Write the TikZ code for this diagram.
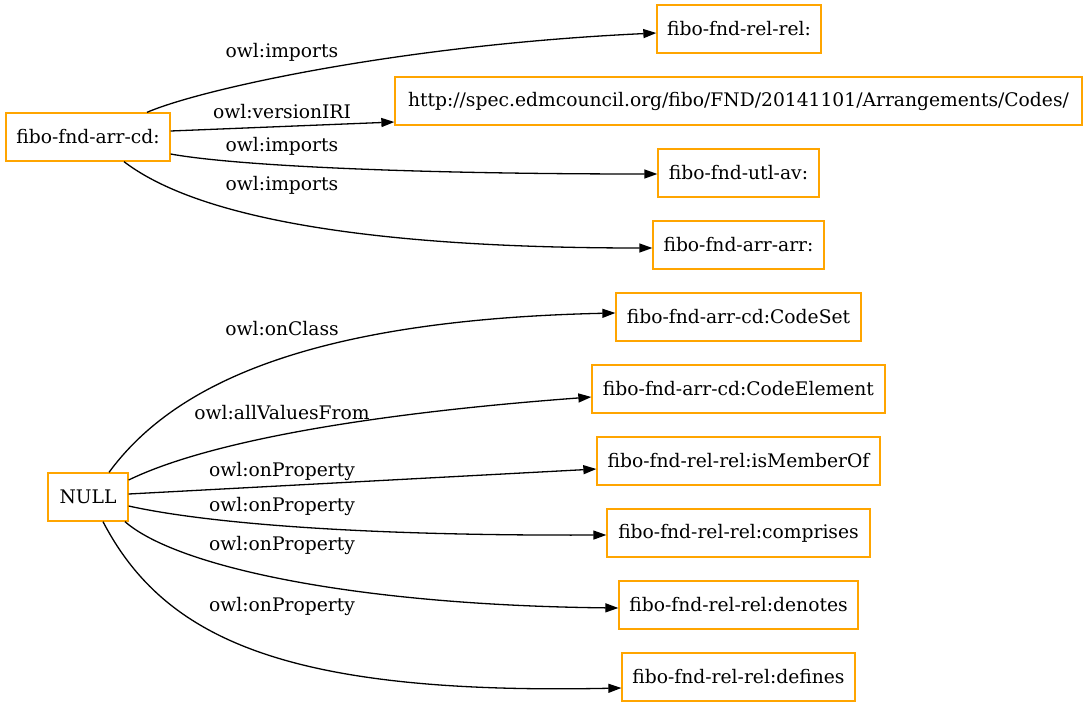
\documentclass[tikz,border=0pt]{standalone}
\usepackage{fontspec}
\setmainfont{DejaVu Serif}
\usetikzlibrary{arrows.meta,calc}
\definecolor{boxorange}{HTML}{FFA500}
\begin{document}
\begin{tikzpicture}[x=1pt,y=-1pt,
  box/.style={draw=boxorange,line width=1.3pt,minimum height=48pt,inner xsep=0pt,inner ysep=0pt,font=\fontsize{18.7pt}{22pt}\selectfont},
  lbl/.style={inner sep=0pt,font=\fontsize{18.7pt}{22pt}\selectfont},
  edge/.style={draw,line width=1.3pt,-{Triangle[length=13pt,width=9pt]}}]
\useasboundingbox (0,0) rectangle (1088,707);
% nodes
\node[box,minimum width=164pt] (arrcd) at (88,137) {fibo-fnd-arr-cd:};
\node[box,minimum width=164pt] (relrel) at (739,29) {fibo-fnd-rel-rel:};
\node[box,minimum width=687pt] (http) at (738.5,101) {http://spec.edmcouncil.org/fibo/FND/20141101/Arrangements/Codes/};
\node[box,minimum width=161pt] (utlav) at (738.5,173) {fibo-fnd-utl-av:};
\node[box,minimum width=171pt] (arrarr) at (738.5,245) {fibo-fnd-arr-arr:};
\node[box,minimum width=245pt] (codeset) at (738.5,317) {fibo-fnd-arr-cd:CodeSet};
\node[box,minimum width=293pt] (codeel) at (738.5,389) {fibo-fnd-arr-cd:CodeElement};
\node[box,minimum width=283pt] (member) at (738.5,461) {fibo-fnd-rel-rel:isMemberOf};
\node[box,minimum width=263pt] (comprises) at (738.5,533) {fibo-fnd-rel-rel:comprises};
\node[box,minimum width=239pt] (denotes) at (738.5,605) {fibo-fnd-rel-rel:denotes};
\node[box,minimum width=233pt] (defines) at (738.5,677) {fibo-fnd-rel-rel:defines};
\node[box,minimum width=80pt] (null) at (88,497) {NULL};
% edges from fibo-fnd-arr-cd:
\draw[edge] ($(arrcd.north)+(59,0)$) .. controls +(53,-23) and +(-257,12) .. ($(relrel.west)+(0,4)$);
\draw[edge] ($(arrcd.east)+(0,-6)$) -- ($(http.west)+(0,21)$);
\draw[edge] ($(arrcd.east)+(0,17)$) .. controls +(60,11) and +(-258,0) .. ($(utlav.west)+(0,1)$);
\draw[edge] ($(arrcd.south)+(36,0)$) .. controls +(51,39) and +(-353,0) .. ($(arrarr.west)+(0,3)$);
% edges from NULL
\draw[edge] ($(null.north)+(21,0)$) .. controls +(61,-83) and +(-317,7) .. ($(codeset.west)+(0,-4)$);
\draw[edge] ($(null.east)+(0,-17)$) .. controls +(72,-35) and +(-242,18) .. ($(codeel.west)+(0,8)$);
\draw[edge] ($(null.east)+(0,-3)$) -- ($(member.west)+(0,8)$);
\draw[edge] ($(null.east)+(0,9)$) .. controls +(72,16) and +(-257,1) .. ($(comprises.west)+(0,2)$);
\draw[edge] ($(null.south)+(37,0)$) .. controls +(50,44) and +(-269,-3) .. ($(denotes.west)+(0,3)$);
\draw[edge] ($(null.south)+(15,0)$) .. controls +(62,119) and +(-332,7) .. ($(defines.west)+(0,11)$);
% labels
\node[lbl] (l1) at (282,52) {owl:imports};
\node[lbl] (l2) at (282,112) {owl:versionIRI};
\node[lbl] (l3) at (282,146) {owl:imports};
\node[lbl] (l4) at (282,185) {owl:imports};
\node[lbl] (l5) at (282,329) {owl:onClass};
\node[lbl] (l6) at (282,413) {owl:allValuesFrom};
\node[lbl] (l7) at (282,471) {owl:onProperty};
\node[lbl] (l8) at (282,506) {owl:onProperty};
\node[lbl] (l9) at (282,545) {owl:onProperty};
\node[lbl] (l10) at (282,606) {owl:onProperty};
\end{tikzpicture}
\end{document}
